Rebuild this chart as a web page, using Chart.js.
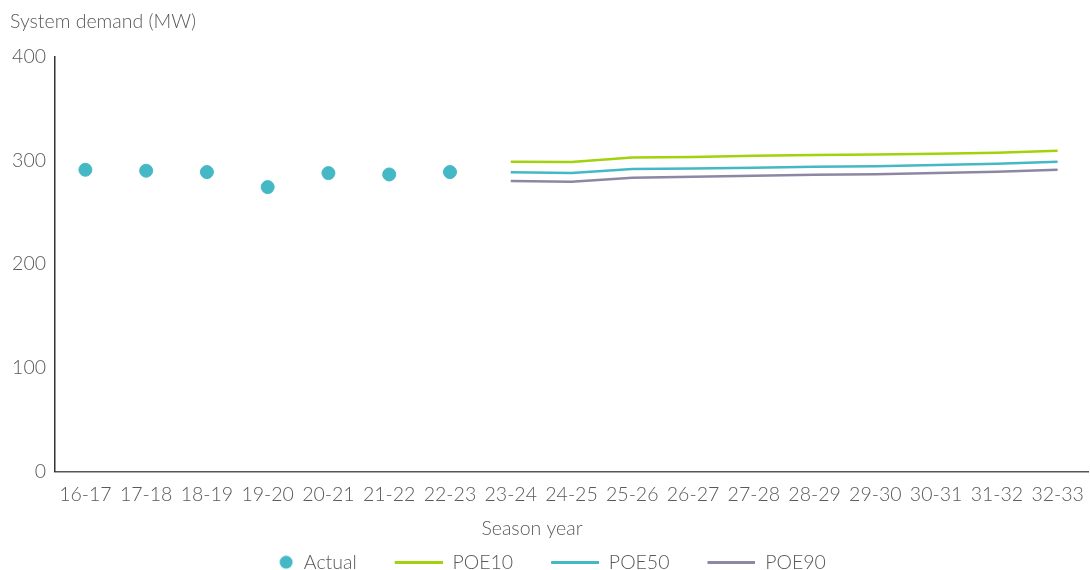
<!DOCTYPE html>
<html>
<head>
<meta charset="utf-8">
<script src="https://cdn.jsdelivr.net/npm/chart.js@4/dist/chart.umd.min.js"></script>
<style>
  html, body { margin: 0; padding: 0; background: #fff; }
  #wrap { width: 1090px; height: 570px; }
</style>
</head>
<body>
<div id="wrap"><canvas id="chart"></canvas></div>
<script>
const seasons = ["16-17", "17-18", "18-19", "19-20", "20-21", "21-22", "22-23", "23-24", "24-25",
  "25-26", "26-27", "27-28", "28-29", "29-30", "30-31", "31-32", "32-33"];
const actual = [290.8, 289.9, 288.6, 274.1, 287.6, 286.3, 288.6,
  null, null, null, null, null, null, null, null, null, null];
const poe10 = [null, null, null, null, null, null, null,
  298.6, 298.2, 302.7, 303.1, 304.2, 305.1, 305.6, 306.2, 307.2, 309.2];
const poe50 = [null, null, null, null, null, null, null,
  288.3, 287.6, 291.5, 292.1, 292.8, 293.7, 294.3, 295.3, 296.6, 298.6];
const poe90 = [null, null, null, null, null, null, null,
  279.9, 279.2, 283.1, 284.0, 285.0, 286.0, 286.6, 287.6, 288.9, 290.8];
const yTicks = [0, 100, 200, 300, 400];

const COLORS = { actual: "#45b8c5", poe10: "#a2d20c", poe50: "#45b8c5", poe90: "#8c88a4" };
const FONT = "Lato, 'Open Sans', sans-serif";
const TEXT = "#595959";
const MARK_W = 56; // legend box width; the mark sits at its right end

// legend marks: a dot for Actual, short strokes for the forecasts
function lineMark(color) {
  const c = document.createElement("canvas");
  c.width = MARK_W; c.height = 3;
  const g = c.getContext("2d");
  g.fillStyle = color;
  g.fillRect(MARK_W - 48, 0, 48, 3);
  return c;
}
function dotMark(color) {
  const c = document.createElement("canvas");
  c.width = MARK_W; c.height = 14;
  const g = c.getContext("2d");
  g.fillStyle = color;
  g.beginPath();
  g.arc(MARK_W - 8, 7, 6.5, 0, Math.PI * 2);
  g.fill();
  return c;
}
const legendMarks = [dotMark(COLORS.actual), lineMark(COLORS.poe10), lineMark(COLORS.poe50), lineMark(COLORS.poe90)];

// the legend in the original sits a little left of the canvas centre
const shiftLegend = {
  id: "shiftLegend",
  afterLayout(chart) {
    chart.legend.left -= 17;
    chart.legend.right -= 17;
  },
};

function forecast(label, data, color) {
  return {
    label,
    data,
    borderColor: color,
    backgroundColor: color,
    borderWidth: 2.5,
    pointRadius: 0,
    pointHoverRadius: 0,
    tension: 0,
  };
}

const font = (size) => ({ family: FONT, size, weight: 300 });

new Chart(document.getElementById("chart"), {
  type: "line",
  plugins: [shiftLegend],
  data: {
    labels: seasons,
    datasets: [
      {
        label: "Actual",
        data: actual,
        showLine: false,
        pointRadius: 6.5,
        pointBackgroundColor: COLORS.actual,
        pointBorderColor: COLORS.actual,
        backgroundColor: COLORS.actual,
        borderColor: COLORS.actual,
      },
      forecast("POE10", poe10, COLORS.poe10),
      forecast("POE50", poe50, COLORS.poe50),
      forecast("POE90", poe90, COLORS.poe90),
    ],
  },
  options: {
    responsive: true,
    maintainAspectRatio: false,
    animation: false,
    layout: { autoPadding: false, padding: { left: 10, right: 2, top: 0, bottom: -12 } },
    scales: {
      x: {
        offset: true,
        afterFit: (scale) => { scale.paddingLeft = 0; scale.paddingRight = 0; },
        grid: { display: false, drawTicks: false },
        border: { display: true, color: "#555", width: 1.5 },
        ticks: { color: TEXT, font: font(19.5), padding: 11, maxRotation: 0, autoSkip: false },
      },
      y: {
        min: 0,
        max: 400,
        afterBuildTicks: (scale) => { scale.ticks = yTicks.map((v) => ({ value: v })); },
        afterFit: (scale) => { scale.width = 45; },
        grid: { display: false, drawTicks: false },
        border: { display: true, color: "#333", width: 1.5 },
        ticks: { color: TEXT, font: font(19.5), padding: 9 },
      },
    },
    plugins: {
      title: {
        display: true,
        text: "System demand (MW)",
        align: "start",
        color: TEXT,
        font: font(19.5),
        padding: { top: 10, bottom: 23 },
      },
      legend: {
        position: "bottom",
        title: {
          display: true,
          text: "Season year",
          color: TEXT,
          font: font(19.5),
          padding: { top: 2, bottom: -20 },
        },
        labels: {
          usePointStyle: true,
          pointStyleWidth: MARK_W,
          boxHeight: 14,
          padding: 30,
          color: TEXT,
          font: font(19.5),
          generateLabels(chart) {
            const items = Chart.defaults.plugins.legend.labels.generateLabels(chart);
            items.forEach((item, i) => { item.pointStyle = legendMarks[i]; });
            return items;
          },
        },
      },
      tooltip: { enabled: false },
    },
  },
});
</script>
</body>
</html>
